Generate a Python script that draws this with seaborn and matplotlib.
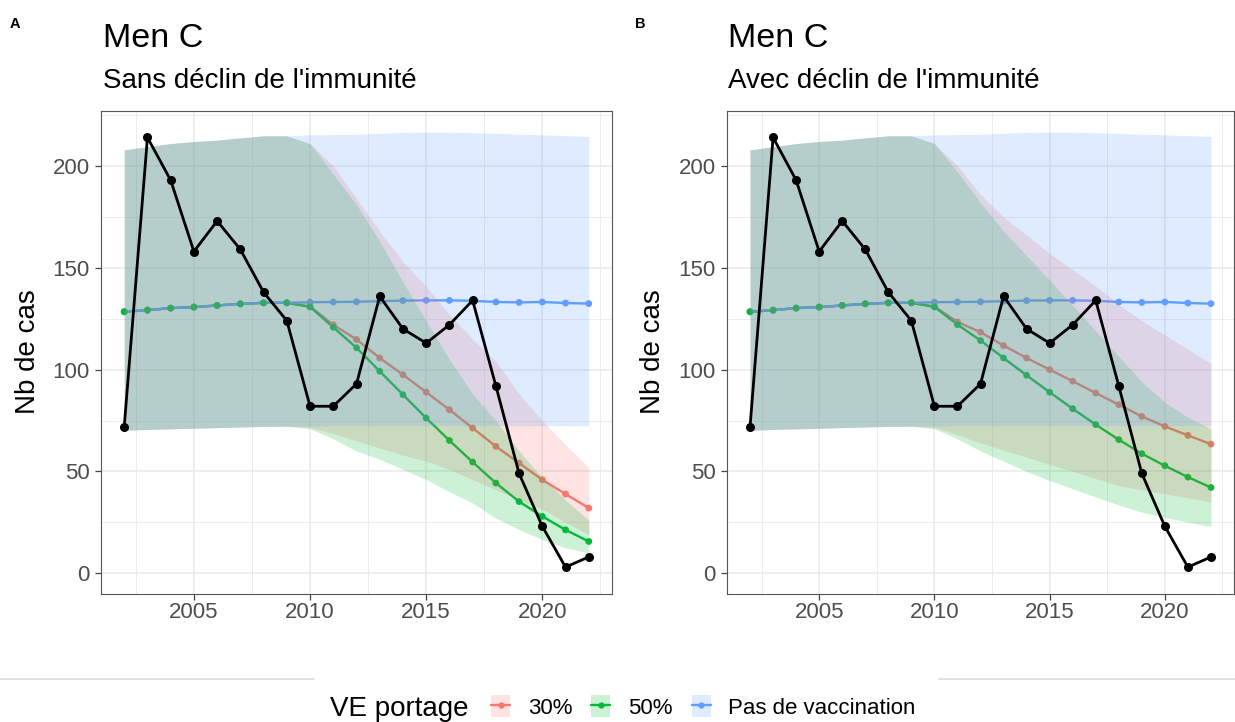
import matplotlib
matplotlib.use('Agg')
import matplotlib.pyplot as plt
from matplotlib.lines import Line2D
from matplotlib.patches import Patch
from matplotlib.ticker import MultipleLocator
import pandas as pd
import seaborn as sns

# --- data ---------------------------------------------------------------
years = list(range(2002, 2023))
observed = [72, 214, 193, 158, 173, 159, 138, 124, 82, 82, 93, 136, 120, 113,
            122, 134, 92, 49, 23, 3, 8]

no_vacc = [128.4, 129.2, 130.2, 130.7, 131.5, 132.3, 132.8, 132.8, 133.1, 133.2,
           133.3, 133.6, 133.9, 134.0, 134.0, 133.8, 133.2, 133.0, 133.2, 132.7, 132.4]
no_vacc_lo = [70.2, 70.6, 70.9, 71.2, 71.5, 71.8, 72.1, 72.2, 72.3, 72.4, 72.4,
              72.5, 72.5, 72.5, 72.5, 72.5, 72.5, 72.5, 72.5, 72.5, 72.4]
no_vacc_hi = [207.9, 209.5, 211.0, 212.0, 212.7, 213.8, 214.8, 214.8, 215.3, 215.4,
              215.6, 216.0, 216.5, 216.6, 216.6, 216.3, 216.0, 215.6, 215.3, 214.9, 214.5]

# vaccination scenarios follow the no-vaccination run until 2009
ve30_a = no_vacc[:8] + [131.0, 122.0, 114.8, 105.7, 97.5, 88.9, 80.3, 71.3, 62.3, 54.1, 45.9, 38.9, 32.0]
ve30_a_lo = no_vacc_lo[:8] + [71.5, 68.5, 65.0, 61.5, 58.0, 55.0, 51.0, 46.0, 41.0, 36.0, 31.5, 25.0, 19.0]
ve30_a_hi = no_vacc_hi[:8] + [211.0, 200.0, 184.0, 168.0, 153.0, 141.0, 127.0, 115.0, 104.0, 88.0, 75.0, 63.0, 52.0]
ve50_a = no_vacc[:8] + [130.8, 120.8, 110.7, 99.2, 87.7, 76.2, 65.2, 54.6, 44.3, 35.2, 27.9, 21.3, 15.6]
ve50_a_lo = no_vacc_lo[:8] + [71.0, 66.0, 60.0, 56.0, 51.0, 46.0, 40.0, 34.5, 27.0, 21.5, 16.5, 12.5, 10.0]
ve50_a_hi = no_vacc_hi[:8] + [211.0, 196.0, 181.0, 163.0, 143.0, 124.0, 105.0, 88.0, 75.0, 60.0, 47.0, 36.0, 26.0]

ve30_b = no_vacc[:8] + [131.0, 123.4, 118.4, 111.8, 105.7, 100.0, 94.3, 88.5, 82.8, 77.0, 72.1, 67.7, 63.4]
ve30_b_lo = no_vacc_lo[:8] + [71.5, 68.0, 64.0, 60.5, 57.0, 53.5, 50.0, 46.5, 43.0, 41.0, 39.0, 37.0, 35.0]
ve30_b_hi = no_vacc_hi[:8] + [211.0, 200.0, 186.0, 175.0, 166.0, 157.0, 149.0, 141.0, 132.0, 124.0, 117.0, 110.0, 103.0]
ve50_b = no_vacc[:8] + [130.8, 122.1, 114.3, 105.7, 97.2, 88.9, 80.8, 73.0, 65.6, 58.7, 52.8, 47.2, 42.1]
ve50_b_lo = no_vacc_lo[:8] + [71.0, 66.0, 60.0, 55.0, 50.0, 45.5, 41.5, 37.5, 33.5, 30.0, 27.5, 25.0, 23.0]
ve50_b_hi = no_vacc_hi[:8] + [211.0, 197.0, 182.0, 168.0, 156.0, 144.0, 131.5, 119.0, 106.5, 94.0, 84.0, 76.5, 71.0]

scenarios = ['30%', '50%', 'Pas de vaccination']
palette = {'30%': '#F8766D', '50%': '#00BA38', 'Pas de vaccination': '#619CFF'}


def make_frame(s30, s30_lo, s30_hi, s50, s50_lo, s50_hi):
    parts = []
    for name, v, lo, hi in [('Pas de vaccination', no_vacc, no_vacc_lo, no_vacc_hi),
                            ('30%', s30, s30_lo, s30_hi),
                            ('50%', s50, s50_lo, s50_hi)]:
        parts.append(pd.DataFrame({'annee': years, 'cas': v, 'lo': lo, 'hi': hi,
                                   'scenario': name}))
    return pd.concat(parts, ignore_index=True)


def draw_panel(ax, df):
    # lines first, then points (row order), then ribbons on top
    sns.lineplot(data=df, x='annee', y='cas', hue='scenario', hue_order=scenarios,
                 palette=palette, linewidth=1.7, legend=False, ax=ax, zorder=2)
    sns.scatterplot(data=df, x='annee', y='cas', hue='scenario', palette=palette,
                    s=24, linewidth=0, legend=False, ax=ax, zorder=2.5)
    for name in scenarios:
        d = df[df['scenario'] == name]
        ax.fill_between(d['annee'], d['lo'], d['hi'], color=palette[name],
                        alpha=0.2, linewidth=0, zorder=3)
    sns.lineplot(x=years, y=observed, color='black', linewidth=2.0, marker='o',
                 markersize=6.5, markeredgewidth=0, ax=ax, zorder=4)

    ax.set_xlim(2001, 2023)
    ax.set_ylim(-10.2, 227)
    ax.xaxis.set_major_locator(MultipleLocator(5))
    ax.xaxis.set_minor_locator(MultipleLocator(2.5))
    ax.yaxis.set_major_locator(MultipleLocator(50))
    ax.yaxis.set_minor_locator(MultipleLocator(25))
    ax.set_axisbelow(True)
    ax.grid(which='major', color='#EBEBEB', linewidth=1.2)
    ax.grid(which='minor', color='#EBEBEB', linewidth=0.65)
    for sp in ax.spines.values():
        sp.set_color('#555555')
        sp.set_linewidth(0.8)
    ax.tick_params(which='major', direction='out', length=4, width=0.9,
                   color='#444444', labelsize=16, labelcolor='#4D4D4D',
                   bottom=True, left=True)
    ax.tick_params(axis='y', pad=4)
    ax.tick_params(axis='x', pad=2)
    ax.tick_params(which='minor', length=0)
    ax.set_xlabel('')
    ax.set_ylabel('')


sns.set_theme(style='white')
plt.rcParams['font.family'] = ['Liberation Sans', 'DejaVu Sans']
plt.rcParams['text.color'] = 'black'

W, H = 1235, 722
fig = plt.figure(figsize=(W / 100, H / 100), dpi=100)
fig.patch.set_facecolor('white')

ax_a = fig.add_axes([101 / W, 1 - 594 / H, 511 / W, 483 / H])
ax_b = fig.add_axes([727 / W, 1 - 594 / H, 507 / W, 483 / H])

draw_panel(ax_a, make_frame(ve30_a, ve30_a_lo, ve30_a_hi, ve50_a, ve50_a_lo, ve50_a_hi))
draw_panel(ax_b, make_frame(ve30_b, ve30_b_lo, ve30_b_hi, ve50_b, ve50_b_lo, ve50_b_hi))

# titles, subtitles, tags, y labels
for x0, letter, sub in [(0, 'A', "Sans déclin de l'immunité"),
                        (625, 'B', "Avec déclin de l'immunité")]:
    fig.text((x0 + 10) / W, 1 - 28 / H, letter, fontsize=10.5, fontweight='bold',
             va='baseline', ha='left')
    fig.text((x0 + 103) / W, 1 - 47 / H, 'Men C', fontsize=24.5, va='baseline', ha='left')
    fig.text((x0 + 103) / W, 1 - 88 / H, sub, fontsize=20, va='baseline', ha='left')
    fig.text((x0 + 28) / W, 1 - 352 / H, 'Nb de cas', fontsize=20, rotation=90,
             va='center', ha='center')

# thin rule above the legend
for xs in [(0, 314), (939, W)]:
    fig.add_artist(Line2D([xs[0] / W, xs[1] / W], [1 - 679 / H, 1 - 679 / H],
                          color='#D9D9D9', linewidth=1.1))

# legend
fig.text(330 / W, 1 - 716.5 / H, 'VE portage', fontsize=20, va='baseline', ha='left')
handles = []
for name in scenarios:
    handles.append((Patch(facecolor=palette[name], alpha=0.2, edgecolor='none'),
                    Line2D([], [], color=palette[name], linewidth=1.7, marker='o',
                           markersize=4.5, markeredgewidth=0)))
fig.legend(handles, scenarios, loc='center left', bbox_to_anchor=(491 / W, 1 - 707 / H),
           ncol=3, frameon=False, fontsize=16, borderpad=0, borderaxespad=0,
           handlelength=0.86, handleheight=1.1, handletextpad=0.8, columnspacing=0.85)

fig.savefig('out.png', dpi=100)
